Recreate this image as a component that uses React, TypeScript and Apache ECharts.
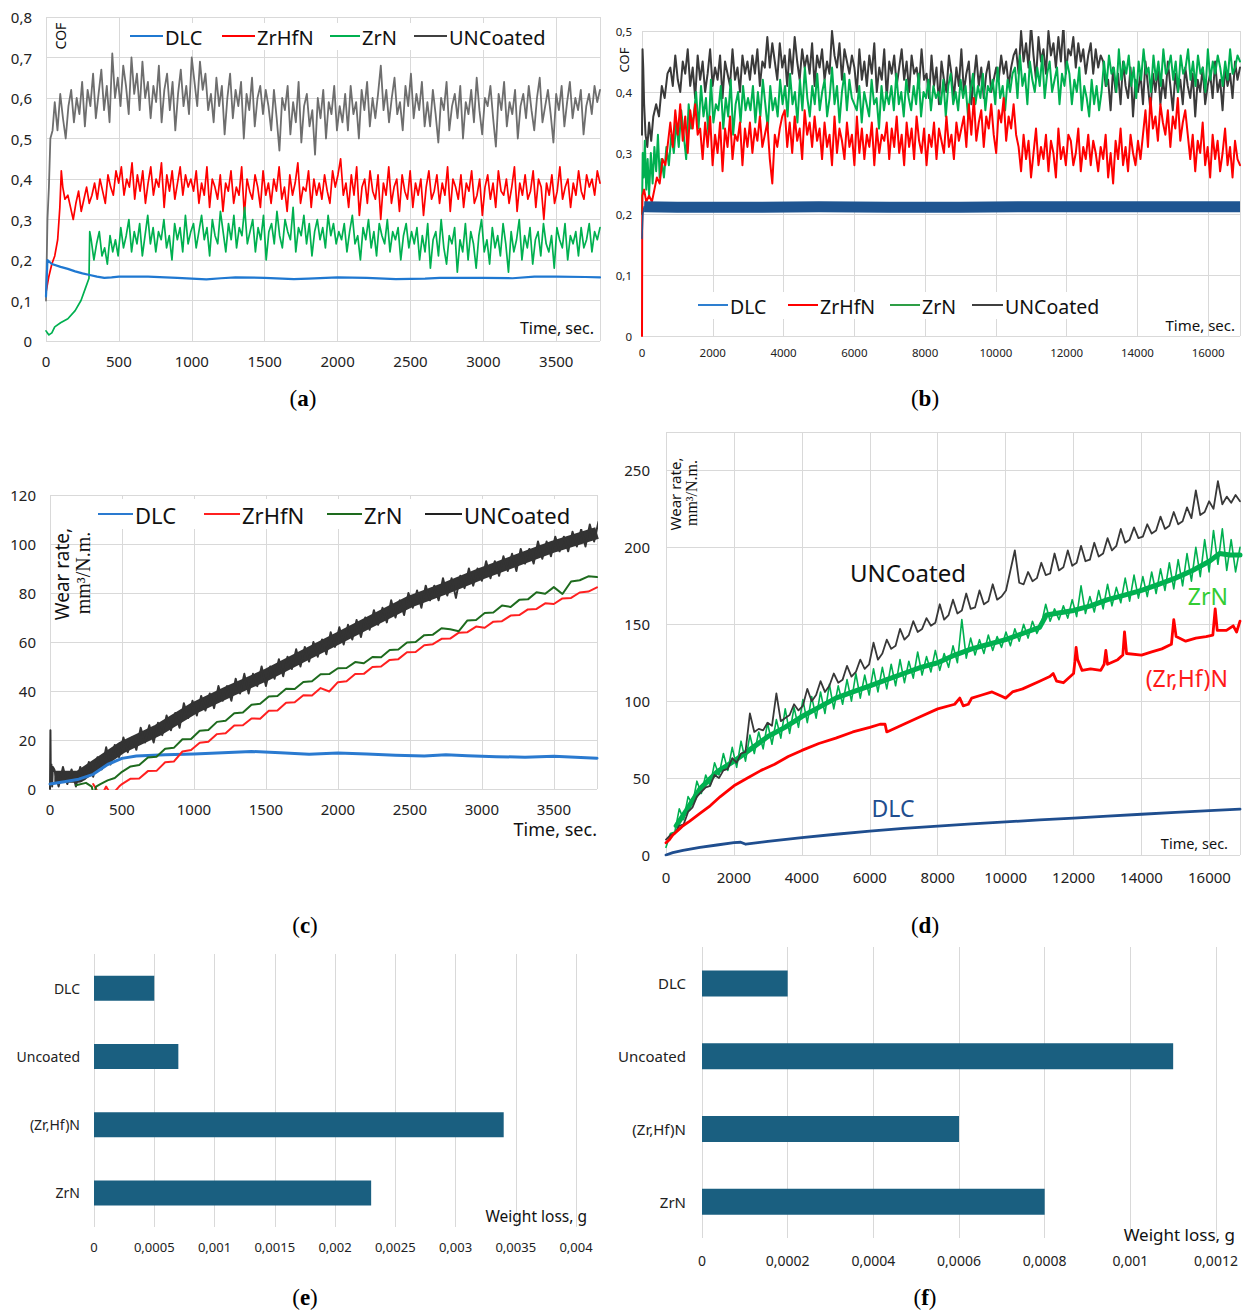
import React, { useEffect, useRef } from "react";
import * as echarts from "echarts";

// ---------- Panel (a): COF vs time, 0-3800 s ----------
const A_DLC = [[0,0.11],[10,0.2],[40,0.19],[100,0.183],[150,0.178],[200,0.172],[250,0.167],[300,0.163],[350,0.159],[400,0.156],[450,0.157],[500,0.159],[700,0.159],[900,0.156],[1000,0.154],[1100,0.152],[1200,0.155],[1300,0.157],[1500,0.156],[1700,0.153],[1800,0.154],[2000,0.157],[2200,0.156],[2400,0.153],[2600,0.154],[2700,0.156],[3000,0.156],[3200,0.155],[3350,0.159],[3500,0.159],[3700,0.158],[3800,0.157]];
const A_ZRHFN_HEAD = [[0,0.12],[20,0.16],[40,0.19],[60,0.21],[80,0.25],[95,0.33],[105,0.42],[115,0.38],[130,0.35]];
// values in hundredths of COF
const A_ZRHFN_BODY = [36,33,30,34,37,32,35,38,34,
36,39,35,40,37,34,41,38,36,42,39,
43,36,40,38,44,35,41,37,42,34,39,43,36,40,38,44,33,41,37,42,35,39,43,36,41,38,40,
37,42,34,39,36,43,33,40,38,35,41,32,39,37,42,34,38,36,43,31,40,37,35,41,38,33,42,36,39,34,40,37,43,35,38,32,41,36,39,44,34,38,37,42,33,40,36,39,35,41,37,34,42,38,
41,45,36,
39,33,41,36,43,31,38,40,34,42,37,35,41,30,39,36,43,34,38,40,32,41,37,35,42,33,39,36,40,31,38,42,35,37,41,34,39,36,43,32,40,38,35,41,33,39,37,42,34,36,40,31,38,41,35,39,33,42,37,36,40,34,38,43,32,39,36,41,35,37,42,33,40,38,30,39,36,41,34,37,43,35,38,40,33,39,36,42,37,35,41,38,40,36,42,39];
const A_UNC_HEAD = [[0,0.1],[10,0.3],[20,0.38],[30,0.5],[45,0.52]];
const A_UNC_BODY = [59,52,61,55,50,58,62,54,
60,56,64,53,62,58,66,55,61,67,57,63,54,71,60,65,
58,68,63,56,70,61,66,57,69,60,64,
55,63,59,68,54,62,66,57,64,52,61,67,58,63,56,70,
64,58,69,62,66,57,
61,54,65,58,63,51,60,66,55,62,58,64,50,61,57,65,53,60,63,56,62,
58,52,62,55,47,60,57,63,51,59,54,64,49,58,61,53,57,46,60,55,62,50,59,56,63,52,
58,54,61,52,63,56,59,50,62,57,64,53,60,55,61,
68,57,
62,54,60,65,56,59,52,63,58,66,55,61,57,64,53,
59,53,62,56,49,60,57,64,52,58,61,55,63,50,59,56,62,54,65,57,51,60,58,63,55,48,61,57,64,53,59,56,62,50,58,61,55,63,57,52,60,65,54,58,62,56,49,61,57,63,53,59,64,55,60,57,62,51,58,61,56,63,59,62];
const A_ZRN_HEAD = [[0,0.025],[10,0.02],[20,0.015],[40,0.02],[60,0.035],[100,0.045],[150,0.055],[200,0.075],[240,0.1],[270,0.13],[295,0.155],[300,0.27]];
const A_ZRN_BODY = [25,20,24,27,21,23,19,26,22,25,21,
28,23,26,30,22,27,24,29,21,26,31,24,28,22,27,25,30,23,26,20,29,25,28,22,31,24,27,
29,23,27,31,25,28,21,30,26,24,32,27,22,29,25,31,23,28,26,33,24,27,30,22,28,25,31,20,27,29,24,32,26,23,30,27,25,33,22,28,26,31,24,29,21,27,30,25,28,23,31,26,29,24,27,
25,29,22,27,31,24,26,20,28,25,30,23,27,21,29,26,24,30,22,27,25,28,20,26,29,23,27,
24,28,20,26,22,29,18,25,27,21,30,23,19,26,24,28,17,25,22,29,20,27,24,18,26,30,22,25,19,28,23,26,21,29,24,17,27,22,25,30,20,26,23,28,19,25,27,21,29,24,22,26,18,28,25,23,29,20,26,24,27,21,28,23,25,29,22,27,25,28];

// ---------- Panel (b): COF vs time, 0-16900 s ----------
const B_DLC_START = [[0,0.16],[25,0.2],[60,0.212]];
const B_DLC = [[60,0.212],[1000,0.211],[3000,0.211],[5000,0.212],[7000,0.211],[9000,0.211],[11000,0.212],[13000,0.212],[15000,0.212],[16900,0.212]];
const B_UNC_HEAD = [[0,0.33],[15,0.47],[35,0.44],[60,0.38],[100,0.33],[150,0.31],[200,0.35],[260,0.32],[320,0.36],[400,0.38],[480,0.36],[560,0.41],[640,0.39],[720,0.43]];
const B_UNC_BODY = [44,41,46,42,40,45,43,47,41,44,39,46,42,45,40,43,47,41,44,42,46,39,45,43,41,47,42,44,40,46,43,45,
42,46,43,47,41,45,44,
49,44,48,
45,42,48,44,46,41,47,43,49,45,42,47,44,46,43,48,41,46,44,47,42,45,43,50,46,44,48,42,47,45,43,46,
44,40,47,42,45,41,46,43,48,40,44,42,47,39,45,43,46,41,44,47,42,45,40,46,43,44,41,47,42,
43,39,46,41,44,38,45,42,40,46,43,39,44,41,47,40,43,45,38,42,46,41,44,39,43,45,40,42,44,
42,46,43,45,41,44,46,
47,43,50,45,48,44,51,46,42,49,45,47,43,50,46,48,44,49,45,51,43,47,46,49,44,48,45,47,43,
46,48,43,47,44,46,45,
41,
42,37,44,40,43,38,45,41,39,44,36,42,40,43,38,45,41,37,43,40,44,38,42,39,45,41,37,43,40,42,38,44,41,39,43,36,42,40,44,38,41,43,39,45,40,42,37,44,41,43,39,45,42,44];
const B_ZRN_HEAD = [[0,0.2],[20,0.3],[50,0.26],[80,0.32],[120,0.24],[160,0.29],[200,0.23],[250,0.3],[300,0.25],[350,0.31],[400,0.27],[450,0.33],[500,0.26]];
const B_ZRN_BODY = [29,26,31,28,33,30,35,
31,37,33,29,38,34,36,
40,34,41,36,39,33,42,35,38,37,41,34,39,36,42,33,38,40,35,41,37,39,
37,41,35,40,36,42,38,34,41,37,39,36,42,38,
41,36,43,38,40,35,42,37,44,39,36,41,38,43,37,40,42,36,39,44,38,41,35,40,43,37,42,39,38,
37,41,35,40,38,36,42,38,39,34,41,37,40,38,
41,37,43,38,40,36,42,39,37,41,38,43,36,40,39,42,37,41,39,40,38,42,36,41,43,38,40,37,42,39,41,36,40,43,38,41,
39,43,37,41,40,42,38,44,39,41,37,42,40,43,
44,39,46,41,43,38,45,42,40,44,41,46,39,43,45,40,42,44,38,43,41,45,
43,38,42,40,44,37,41,39,36,42,38,41,37,40,
45,41,46,43,44,40,47,42,45,43,46,41,44,39,45,42,47,43,44,40,46,42,45,41,47,43,44,46,42,45,40,46,43,44,47,42,45,41,46,43,44,40,47,42,45,43,46,44,41,45,42,47,43,44,46,45];
const B_ZRHFN_HEAD = [[0,0],[5,0.15],[10,0.23],[60,0.24],[120,0.22],[200,0.23],[280,0.22],[350,0.24],[420,0.26],[500,0.25],[580,0.29],[660,0.28],[740,0.32]];
const B_ZRHFN_BODY = [35,31,37,33,38,32,36,30,37,34,38,33,
34,29,35,31,36,28,33,30,35,27,34,31,36,29,33,32,35,28,34,31,
35,30,34,32,36,31,33,35,29,25,33,31,34,36,
37,31,35,30,36,32,34,29,37,33,35,31,36,32,
34,29,35,31,33,28,36,30,34,32,29,35,31,33,28,36,30,34,29,33,31,35,28,34,30,33,32,35,29,34,31,36,30,33,28,35,31,34,29,36,32,30,34,28,33,31,35,29,34,32,30,36,31,33,29,35,32,34,
36,31,38,33,39,32,35,37,31,36,34,38,33,30,37,35,39,32,36,34,38,33,
31,27,33,29,32,26,30,34,28,31,29,33,27,32,30,26,34,29,31,28,33,
32,28,30,34,27,31,29,33,28,32,30,27,31,29,33,26,30,25,32,29,34,28,31,27,33,30,28,32,29,
33,37,31,39,34,36,32,38,35,33,37,31,36,34,39,32,35,37,33,
29,33,27,32,30,35,28,31,26,33,29,32,27,30,34,28,31,26,32,29,28];

// ---------- Panel (c): wear rate vs time, 0-3800 s ----------
const C_DLC = [[0,2],[100,3],[200,4],[300,6],[400,10],[500,12.5],[600,13.5],[800,14],[1000,14.3],[1200,14.8],[1400,15.3],[1600,14.8],[1800,14.2],[2000,14.7],[2200,14.3],[2400,13.8],[2600,13.5],[2750,14],[2900,13.6],[3100,13.2],[3300,13],[3500,13.4],[3650,13],[3800,12.6]];
const C_ZRN_HEAD = [[180,1.5],[250,2.5],[290,1],[305,-3],[320,1],[350,2],[400,3.5],[450,4.5],[500,7]];
const C_ZRN_BODY = [9.2,9.8,12.9,13.2,16.4,16.8,20.3,20.4,23.8,24.1,27.4,27.9,30.9,31.2,34.4,34.8,37.8,38,40.9,40.8,43.7,44,46.8,46.9,49.3,49.4,51.8,51.3,53.9,53.8,56.7,56.9,59.8,60,62.8,63,65.6,65.2,64.4,68.8,69,71.8,72,74.9,74.3,77.2,77.4,80.3,79.7,82.4,79.6,84.7,85.2,86.8,86.5];
const C_ZRHFN_HEAD = [[300,2],[330,-1],[360,-2.5],[390,1],[420,-2],[450,-1],[480,1],[500,2]];
const C_ZRHFN_BODY = [4.2,4.3,7.3,7.4,10.9,11.2,15.3,15.9,18.9,19.3,22.4,22.8,25.9,26,28.8,28.7,31.9,32,35.2,35.4,38.3,38.2,41.2,39.8,43.6,44,46.9,47,49.8,50,52.7,53,55.8,55.9,58.7,59.1,61.3,61.4,63.8,64,66.3,65.8,68.3,68.5,70.8,71,73.3,73.5,75.8,75.5,77.8,78,80.2,80.6,82.3];
const C_UNC_HEAD = [[0,0],[3,24],[6,2],[10,10],[15,1],[20,9]];
const C_UNC_BODY = [8,1,9,2,8,1,9,4,11,5,13,8,17,10,18,13,21,15,21,16,25,19,26,19,27,22,30,24,31,25,35,29,36,30,38,32,39,33,42,36,42,36,45,39,47,39,47,42,50,42,50,45,53,46,54,49,57,50,58,52,60,54,61,55,64,58,66,59,67,61,69,62,70,65,73,67,74,68,77,70,77,71,80,74,81,74,83,77,83,77,86,79,86,78,87,82,90,83,90,85,93,86,93,87,95,89,96,89,98,92,98,92,101,94,101,95,103,97,103,97,105,99,106,99,108,101,109];
const C_UNC_CORE = [[30,5],[200,5],[300,9],[500,17],[750,24],[1000,33],[1250,40],[1500,46.5],[1750,54],[2000,61.5],[2250,69],[2500,76.5],[2750,82],[3000,88],[3250,93.5],[3500,99],[3800,104.5]];

// ---------- Panel (d): wear rate vs time, 0-16900 s ----------
const D_DLC = [[0,0],[200,1.5],[500,3],[1000,5],[1500,6.5],[2000,8],[2200,8.3],[2350,7],[3000,8.8],[4000,11.3],[5000,13.5],[6000,15.5],[7000,17.3],[8000,18.8],[9000,20.2],[10000,21.5],[11000,22.8],[12000,24],[13000,25.3],[14000,26.5],[15000,27.7],[16000,28.8],[16900,29.8]];
const D_ZRHFN = [[0,8],[100,10],[200,13],[300,15],[400,17],[500,19],[700,22],[1000,27],[1300,32],[1600,38],[2000,45],[2400,50],[2800,55],[3200,59],[3600,64],[4000,68],[4500,72.5],[5000,76],[5500,80],[6000,83],[6300,85],[6450,85],[6500,80],[6600,81],[7000,85],[7500,90],[8000,95],[8500,98],[8650,102],[8750,97],[8900,98],[9000,102],[9300,104],[9600,106],[9900,103],[10000,102],[10200,106],[10500,108],[11000,113],[11300,116],[11400,118],[11500,113],[11700,112],[12000,118],[12040,126],[12075,135],[12120,127],[12250,120],[12500,121],[12800,120],[12900,124],[12950,133],[13000,124],[13300,127],[13450,130],[13500,145],[13560,131],[14000,130],[14300,132],[14600,134],[14880,137],[14950,153],[15020,142],[15300,139],[15600,141],[15900,142],[16100,143],[16170,160],[16230,146],[16500,146],[16700,149],[16800,145],[16900,152]];
const D_UNC = [10,13,14,19,20,28,31,38,41,44,45,52,50,55,56,63,60,66,67,92,80,82,81,86,84,105,87,89,91,98,94,97,108,100,104,113,106,110,118,112,114,123,116,119,127,121,124,138,127,131,140,134,136,147,140,143,152,145,147,154,149,151,163,153,156,166,157,159,170,160,161,172,163,165,176,166,168,172,185,198,177,176,184,178,180,190,182,183,196,185,187,198,188,190,201,191,192,203,194,196,206,198,201,212,203,205,213,206,207,215,209,211,220,212,214,223,215,217,226,219,237,221,223,230,225,243,228,233,229,234,230];
const D_ZRN = [5,14,15,30,23,38,33,48,40,52,45,60,52,66,55,70,57,74,61,78,66,80,69,86,72,88,76,95,79,96,83,101,86,103,89,106,92,111,95,110,98,114,100,118,102,117,104,121,106,122,108,124,110,127,112,126,115,132,117,129,119,133,120,131,122,136,125,153,128,141,130,140,131,143,133,142,135,145,136,147,139,150,141,152,144,150,163,152,160,153,162,154,166,155,175,157,168,158,172,160,176,162,174,164,180,165,182,167,181,168,184,170,186,172,190,173,192,175,196,178,200,181,205,184,211,189,212,185,205,184,200];
const D_ZRN_CORE = [[300,19],[600,29],[1000,43],[1500,54],[2000,61],[2500,69],[3000,77],[3500,83],[4000,90],[4500,96],[5000,102],[5500,106],[6000,110],[6500,114],[7000,118],[7500,122],[8000,125],[8500,130],[9000,134],[9500,137],[10000,140],[10500,144],[11000,148],[11200,156],[12000,159],[12500,162],[13000,166],[13500,169],[14000,172],[14500,176],[15000,180],[15500,185],[16000,191],[16300,196],[16600,195],[16900,195]];

// ---------- Panels (e), (f): weight loss ----------
const BAR_CATS = ["DLC", "Uncoated", "(Zr,Hf)N", "ZrN"];
const E_VALUES = [0.0005, 0.0007, 0.0034, 0.0023];
const F_VALUES = [0.0002, 0.0011, 0.0006, 0.0008];

// axis extents
const A_X_MAX = 3800, A_Y_MAX = 0.8;
const B_X_MAX = 16900, B_Y_MAX = 0.5;
const C_X_MAX = 3800, C_Y_MAX = 120;
const D_X_MAX = 16900, D_Y_MAX = 275;
const E_X_MAX = 0.004, F_X_MAX = 0.0012;

function body(start: number, end: number, vals: number[], unit = 1) {
  const step = (end - start) / (vals.length - 1);
  return vals.map((v, i) => [start + i * step, v * unit]);
}

const FONT = "'Noto Sans', 'DejaVu Sans', sans-serif";
const SERIF = "'Liberation Serif', 'DejaVu Serif', serif";
const GRID_C = "#d9d9d9";
const comma = (v: number) => String(parseFloat(Number(v).toPrecision(10))).replace(".", ",");
const plain = (v: number) => String(parseFloat(Number(v).toPrecision(10)));

function vAxis(grid: number, max: number, interval: number, fontSize: number, margin: number, fmt: any, showMax: boolean) {
  return {
    type: "value", gridIndex: grid, min: 0, max, interval,
    axisLine: { show: false }, axisTick: { show: false },
    splitLine: { show: true, lineStyle: { color: GRID_C, width: 1 } },
    axisLabel: { fontSize, margin, color: "#222", fontFamily: FONT, formatter: fmt, showMaxLabel: showMax },
  };
}

function ln(name: string, grid: number, data: any[], color: string, width: number, cap = "round") {
  return {
    type: "line", name, xAxisIndex: grid, yAxisIndex: grid, data, symbol: "none",
    showSymbol: false, silent: true, animation: false,
    lineStyle: { color, width, join: "round", cap }, itemStyle: { color },
  };
}

function txt(x: number, y: number, text: string, fontSize: number, opts: any = {}) {
  const { rotation, fill, align, font, weight } = opts;
  return {
    type: "text", x, y, rotation: rotation || 0, z: 100, silent: true,
    style: {
      text, fontSize, fontFamily: font || FONT, fontWeight: weight || "normal",
      fill: fill || "#111", align: align || "left", verticalAlign: "middle",
    },
  };
}

function legendEls(items: any[], y: number, fontSize: number, rect: number[]) {
  const els: any[] = [{
    type: "rect", z: 99, silent: true,
    shape: { x: rect[0], y: rect[1], width: rect[2], height: rect[3] },
    style: { fill: "#fff" },
  }];
  items.forEach((it) => {
    els.push({ type: "line", z: 100, silent: true, shape: { x1: it.x, y1: y, x2: it.x + it.len, y2: y }, style: { stroke: it.color, lineWidth: 2 } });
    els.push(txt(it.x + it.len + 2, y + 1, it.text, fontSize, { fill: "#111" }));
  });
  return els;
}

function caption(x: number, y: number, letter: string) {
  return {
    type: "text", x, y, z: 100, silent: true,
    style: {
      text: "({b|" + letter + "})", fontSize: 23, fontFamily: SERIF, fill: "#000",
      align: "center", verticalAlign: "middle",
      rich: { b: { fontSize: 23, fontFamily: SERIF, fontWeight: "bold", fill: "#000" } },
    },
  };
}

export default function App() {
  const ref = useRef<HTMLDivElement>(null);
  useEffect(() => {
    if (!ref.current) return;
    const chart = echarts.init(ref.current, null, { renderer: "svg", width: 1245, height: 1314 });

    const grids = [
      { left: 46, top: 17, width: 554, height: 324 },
      { left: 642, top: 31, width: 598, height: 305 },
      { left: 50, top: 495, width: 547, height: 294 },
      { left: 666, top: 432, width: 574, height: 423 },
      { left: 94, top: 954, width: 482, height: 273 },
      { left: 702, top: 947, width: 514, height: 291 },
    ];

    const catAxis = (grid: number, fontSize: number, margin: number) => ({
      type: "category", gridIndex: grid, data: BAR_CATS, inverse: true,
      axisLine: { show: false }, axisTick: { show: false }, splitLine: { show: false },
      axisLabel: { fontSize, margin, color: "#222", fontFamily: FONT },
    });

    const xAxis = [
      vAxis(0, A_X_MAX, 500, 15, 12, plain, false),
      vAxis(1, B_X_MAX, 2000, 11.5, 10, plain, false),
      vAxis(2, C_X_MAX, 500, 15, 12, plain, false),
      vAxis(3, D_X_MAX, 2000, 15, 14, plain, false),
      vAxis(4, E_X_MAX, 0.0005, 13, 13, comma, true),
      vAxis(5, F_X_MAX, 0.0002, 14, 15, comma, true),
    ];
    const yAxis = [
      vAxis(0, A_Y_MAX, 0.1, 15, 14, comma, true),
      vAxis(1, B_Y_MAX, 0.1, 11.5, 10, comma, true),
      vAxis(2, C_Y_MAX, 20, 15, 14, plain, true),
      vAxis(3, D_Y_MAX, 50, 15, 16, plain, false),
      catAxis(4, 14, 14),
      catAxis(5, 15, 16),
    ];

    const H = 0.01; // hundredths -> COF
    const series: any[] = [
      // (a)
      ln("UNCoated", 0, [...A_UNC_HEAD, ...body(60, 3800, A_UNC_BODY, H)], "#6e6e6e", 1.8),
      ln("ZrHfN", 0, [...A_ZRHFN_HEAD, ...body(150, 3800, A_ZRHFN_BODY, H)], "#ff0000", 1.7),
      ln("ZrN", 0, [...A_ZRN_HEAD, ...body(310, 3800, A_ZRN_BODY, H)], "#00b050", 1.7),
      ln("DLC", 0, A_DLC, "#1f78d1", 2.2),
      // (b)
      ln("UNCoated", 1, [...B_UNC_HEAD, ...body(800, 16900, B_UNC_BODY, H)], "#3a3a3a", 2),
      ln("ZrN", 1, [...B_ZRN_HEAD, ...body(550, 16900, B_ZRN_BODY, H)], "#00b050", 2),
      ln("ZrHfN", 1, [...B_ZRHFN_HEAD, ...body(800, 16900, B_ZRHFN_BODY, H)], "#ff0000", 2),
      ln("DLC", 1, B_DLC_START, "#1f5591", 1.5),
      ln("DLC", 1, B_DLC, "#1f5591", 11, "butt"),
      // (c)
      ln("UNCoated", 2, C_UNC_CORE, "#333333", 12, "butt"),
      ln("UNCoated", 2, [...C_UNC_HEAD, ...body(30, 3810, C_UNC_BODY)], "#333333", 2),
      ln("DLC", 2, C_DLC, "#2a7ad0", 3),
      ln("ZrHfN", 2, [...C_ZRHFN_HEAD, ...body(560, 3800, C_ZRHFN_BODY)], "#ff2020", 2),
      ln("ZrN", 2, [...C_ZRN_HEAD, ...body(560, 3800, C_ZRN_BODY)], "#1e6b1e", 2),
      // (d)
      ln("ZrN", 3, D_ZRN_CORE, "#00b050", 5),
      ln("ZrN", 3, body(0, 16900, D_ZRN), "#00b050", 1.6),
      ln("UNCoated", 3, body(0, 16900, D_UNC), "#383838", 1.8),
      ln("ZrHfN", 3, D_ZRHFN, "#ff0000", 2.8),
      ln("DLC", 3, D_DLC, "#1f4e8f", 2.8),
      // (e), (f)
      { type: "bar", xAxisIndex: 4, yAxisIndex: 4, data: E_VALUES, barWidth: 25, itemStyle: { color: "#1a5f80" }, silent: true },
      { type: "bar", xAxisIndex: 5, yAxisIndex: 5, data: F_VALUES, barWidth: 26, itemStyle: { color: "#1a5f80" }, silent: true },
    ];

    const graphic: any[] = [
      // (a)
      ...legendEls([
        { x: 130, len: 33, text: "DLC", color: "#1f78d1" },
        { x: 222, len: 33, text: "ZrHfN", color: "#ff0000" },
        { x: 330, len: 30, text: "ZrN", color: "#00b050" },
        { x: 414, len: 33, text: "UNCoated", color: "#404040" },
      ], 36, 20, [125, 23, 428, 27]),
      txt(60, 36, "COF", 14, { rotation: Math.PI / 2, align: "center" }),
      txt(594, 328, "Time, sec.", 16, { align: "right" }),
      caption(303, 398, "a"),
      // (b)
      ...legendEls([
        { x: 698, len: 30, text: "DLC", color: "#2e7fd0" },
        { x: 788, len: 30, text: "ZrHfN", color: "#ff0000" },
        { x: 890, len: 30, text: "ZrN", color: "#2e9e46" },
        { x: 972, len: 31, text: "UNCoated", color: "#404040" },
      ], 305, 19.5, [690, 292, 418, 27]),
      txt(624, 60, "COF", 13, { rotation: Math.PI / 2, align: "center" }),
      txt(1235, 325, "Time, sec.", 15, { align: "right" }),
      caption(925, 398, "b"),
      // (c)
      ...legendEls([
        { x: 98, len: 35, text: "DLC", color: "#2a7ad0" },
        { x: 204, len: 36, text: "ZrHfN", color: "#ff2020" },
        { x: 327, len: 35, text: "ZrN", color: "#1e6b1e" },
        { x: 425, len: 37, text: "UNCoated", color: "#222222" },
      ], 514, 22, [92, 499, 492, 30]),
      txt(62, 574, "Wear rate,", 19, { rotation: Math.PI / 2, align: "center" }),
      txt(83, 573, "mm³/N.m.", 20, { rotation: Math.PI / 2, align: "center", font: SERIF }),
      txt(597, 829, "Time, sec.", 18, { align: "right" }),
      caption(305, 925, "c"),
      // (d)
      txt(675, 494, "Wear rate,", 15, { rotation: Math.PI / 2, align: "center" }),
      txt(691, 493, "mm³/N.m.", 16, { rotation: Math.PI / 2, align: "center", font: SERIF }),
      txt(908, 572, "UNCoated", 24, { align: "center", fill: "#111" }),
      txt(1228, 596, "ZrN", 23, { align: "right", fill: "#33cc33" }),
      txt(1228, 678, "(Zr,Hf)N", 23, { align: "right", fill: "#ff1a1a" }),
      txt(893, 808, "DLC", 23, { align: "center", fill: "#1f4e8f" }),
      txt(1228, 843, "Time, sec.", 14.5, { align: "right" }),
      caption(925, 925, "d"),
      // (e), (f)
      txt(587, 1216, "Weight loss, g", 15.5, { align: "right" }),
      caption(305, 1297, "e"),
      txt(1235, 1234, "Weight loss, g", 17, { align: "right" }),
      caption(925, 1297, "f"),
    ];

    chart.setOption({
      animation: false,
      backgroundColor: "#ffffff",
      textStyle: { fontFamily: FONT },
      grid: grids,
      xAxis,
      yAxis,
      series,
      graphic,
    });
    return () => chart.dispose();
  }, []);

  return (
    <div
      ref={ref}
      style={{ position: "absolute", left: 0, top: 0, width: 1245, height: 1314, background: "#fff" }}
    />
  );
}
